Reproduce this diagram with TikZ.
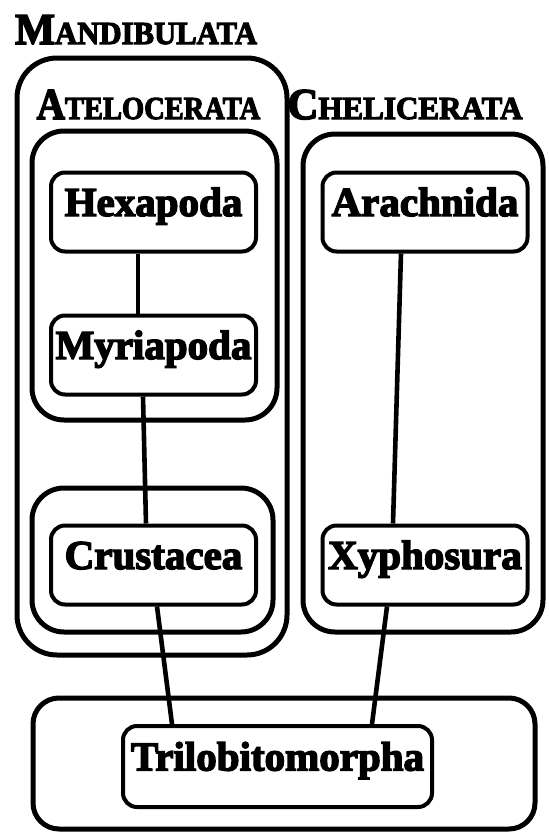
\documentclass[tikz,border=0pt]{standalone}
\usepackage{fontspec}
\setmainfont{Liberation Serif}[BoldFeatures={FakeBold=3.5}]
\usetikzlibrary{calc}
\begin{document}
\begin{tikzpicture}[x=1pt,y=-1pt,
  taxon/.style={draw, line width=4pt, rounded corners=14pt, minimum width=205pt,
    minimum height=79pt, inner sep=0pt, font=\fontsize{41}{41}\selectfont\bfseries,
    text height=20pt, text depth=12pt},
  group/.style={draw, line width=5pt, rounded corners=32pt},
  link/.style={line width=4.6pt},
  hdr/.style={inner sep=0pt, font=\fontsize{44}{44}\selectfont\bfseries}
]
\useasboundingbox (0,0) rectangle (549,833);
\newcommand{\smc}{\fontsize{32}{32}\selectfont}
% group outlines
\draw[group, rounded corners=40pt] (17,58) rectangle (287,655);
\draw[group] (32,131) rectangle (277,420);
\draw[group] (32,488) rectangle (273,632);
\draw[group] (303,134) rectangle (543,632);
\draw[group, rounded corners=26pt] (33,698) rectangle (535,829);
% headers
\node[hdr, anchor=base west] (mand) at (15,44) {\scalebox{0.96}[1]{M\smc ANDIBULATA}};
\node[hdr, anchor=base] (atel) at (148.5,119) {\scalebox{0.89}[1]{A\smc TELOCERATA}};
\node[hdr, anchor=base] (chel) at (405,119) {\scalebox{0.97}[1]{C\smc HELICERATA}};
% taxa
\node[taxon] (hex) at (153.5,212) {Hexapoda};
\node[taxon] (myr) at (153.5,355) {Myriapoda};
\node[taxon] (cru) at (153.5,565) {Crustacea};
\node[taxon] (ara) at (425,212) {Arachnida};
\node[taxon] (xyp) at (425,565) {Xyphosura};
\node[taxon, minimum width=309pt, minimum height=81pt] (tri) at (277.5,766.5) {Trilobitomorpha};
% links
\draw[link] ([xshift=-15.5pt]hex.south) -- ([xshift=-15.5pt]myr.north);
\draw[link] ([xshift=-10.5pt]myr.south) -- ([xshift=-7.5pt]cru.north);
\draw[link] ([xshift=3.5pt]cru.south) -- ([xshift=-105.5pt]tri.north);
\draw[link] ([xshift=-24pt]ara.south) -- ([xshift=-32pt]xyp.north);
\draw[link] ([xshift=-38pt]xyp.south) -- ([xshift=94.5pt]tri.north);
\end{tikzpicture}
\end{document}
